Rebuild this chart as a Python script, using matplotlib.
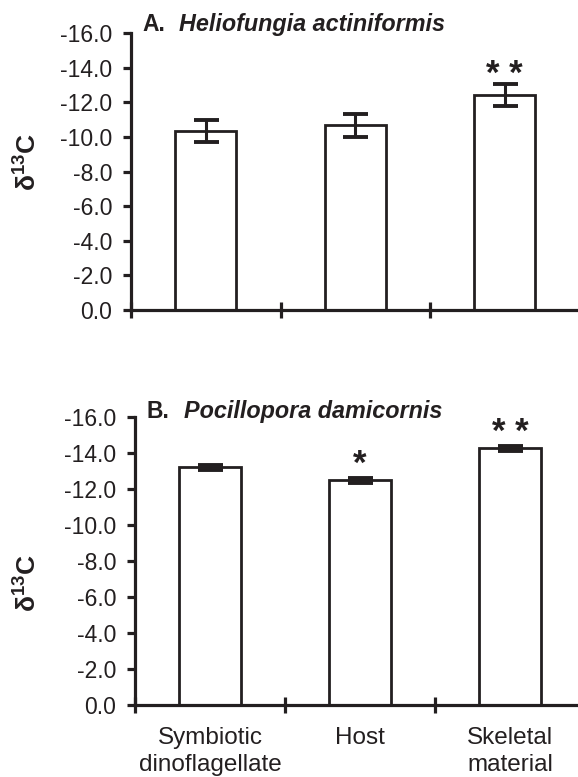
import numpy as np
import matplotlib
matplotlib.use('Agg')
import matplotlib.pyplot as plt
from matplotlib.ticker import FormatStrFormatter

# Data (delta 13C, per mil)
categories = ['Symbiotic\ndinoflagellate', 'Host', 'Skeletal\nmaterial']

helio_mean = [-10.36, -10.67, -12.43]
helio_err = [0.65, 0.64, 0.64]
helio_sig = ['', '', '* *']

pocil_mean = [-13.21, -12.51, -14.27]
pocil_err = [0.14, 0.14, 0.12]
pocil_sig = ['', '*', '* *']

y_ticks = [0, -2, -4, -6, -8, -10, -12, -14, -16]

W, H = 578, 777
INK = '#231f20'

plt.rcParams['font.family'] = ['Liberation Sans', 'DejaVu Sans']
plt.rcParams['axes.unicode_minus'] = False
plt.rcParams['mathtext.fontset'] = 'custom'
plt.rcParams['mathtext.rm'] = 'Liberation Sans'
plt.rcParams['mathtext.bf'] = 'Liberation Sans:bold'


def px_rect(left, top, bottom):
    # axes rectangle from pixel coords (origin top-left), right edge = figure edge
    return [left / W, 1 - bottom / H, (W - left) / W, (bottom - top) / H]


def draw_panel(fig, rect, xmax, means, errs, sigs, letter, species, title_xy, ylabel_y,
               show_labels, star_off):
    ax = fig.add_axes(rect)
    x = np.arange(len(means))
    ax.bar(x, means, width=0.41, color='white', edgecolor=INK, linewidth=2.0, zorder=2)
    ax.errorbar(x, means, yerr=errs, fmt='none', ecolor=INK, elinewidth=2.2,
                capsize=9, capthick=2.8, zorder=3)

    for xi, m, e, s in zip(x, means, errs, sigs):
        if s:
            ax.annotate(s, xy=(xi, m - e), xytext=(0, star_off), textcoords='offset points',
                        ha='center', va='baseline', fontsize=25, fontweight='bold', color=INK)

    ax.set_xlim(-0.5, xmax)
    ax.set_ylim(0, -16)
    ax.set_yticks(y_ticks)
    ax.yaxis.set_major_formatter(FormatStrFormatter('%.1f'))

    # category boundaries as crossing ticks, names as minor ticks
    ax.set_xticks([-0.5, 0.5, 1.5])
    ax.set_xticklabels([])
    ax.set_xticks(x, minor=True)
    if show_labels:
        ax.set_xticklabels(categories, minor=True, fontsize=17.5, linespacing=1.3)

    for side in ['top', 'right']:
        ax.spines[side].set_visible(False)
    for side in ['left', 'bottom']:
        ax.spines[side].set_linewidth(2.3)
        ax.spines[side].set_color(INK)

    ax.tick_params(axis='y', direction='out', length=5.5, width=2.3, color=INK,
                   labelsize=16.5, pad=8, labelcolor=INK)
    ax.tick_params(axis='x', which='major', direction='inout', length=11, width=2.3, color=INK)
    ax.tick_params(axis='x', which='minor', length=0, pad=16, labelcolor=INK)

    tx, ty = title_xy
    fig.text(tx / W, 1 - ty / H, letter, fontsize=16.5, fontweight='bold', color=INK)
    fig.text((tx + 37) / W, 1 - ty / H, species, fontsize=16.8, fontweight='bold',
             style='italic', color=INK)

    fig.text(27 / W, 1 - ylabel_y / H, 'δ$^{\\mathbf{13}}$C', rotation=90, fontsize=19,
             fontweight='bold', ha='center', va='center', color=INK)
    return ax


def main():
    fig = plt.figure(figsize=(W / 100, H / 100), dpi=100)

    draw_panel(fig, px_rect(131, 33.3, 310), -0.5 + (W - 131) / 149.5,
               helio_mean, helio_err, helio_sig, 'A.', 'Heliofungia actiniformis',
               (142, 31), 162.5, False, 0)
    draw_panel(fig, px_rect(135, 417.3, 705), -0.5 + (W - 135) / 150.0,
               pocil_mean, pocil_err, pocil_sig, 'B.', 'Pocillopora damicornis',
               (146.5, 418), 583, True, 3)

    fig.savefig('out.png', dpi=100)


if __name__ == "__main__":
    main()
